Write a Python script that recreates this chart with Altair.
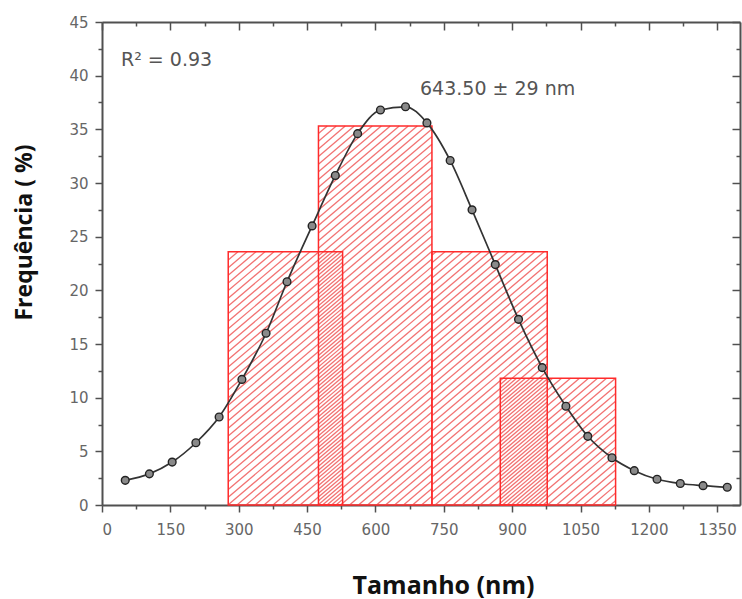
import math
import altair as alt
import pandas as pd

# ---------------- data ----------------
# histogram bars (Tamanho, nm) and their heights (Frequência, %)
bar_left = [277, 475, 724, 874]
bar_right = [528, 724, 977, 1127]
bar_freq = [23.6, 35.3, 23.6, 11.8]

# fitted distribution curve (points)
fit_size = [51, 104, 154, 206, 257, 307, 360, 406, 461, 512, 561, 611, 666, 713,
            764, 812, 863, 914, 966, 1018, 1066, 1119, 1168, 1218, 1269, 1319, 1372]
fit_freq = [2.3, 2.9, 4.0, 5.8, 8.2, 11.7, 16.0, 20.8, 26.0, 30.7, 34.6, 36.8, 37.1, 35.6,
            32.1, 27.5, 22.4, 17.3, 12.8, 9.2, 6.4, 4.4, 3.2, 2.4, 2.0, 1.8, 1.65]

# axes
x_domain = [0, 1400]
y_domain = [0, 45]
x_major = [0, 150, 300, 450, 600, 750, 900, 1050, 1200, 1350]
x_minor = [75, 225, 375, 525, 675, 825, 975, 1125, 1275]
y_major = [0, 5, 10, 15, 20, 25, 30, 35, 40, 45]
y_minor = [2.5, 7.5, 12.5, 17.5, 22.5, 27.5, 32.5, 37.5, 42.5]

r2_label = "R² = 0.93"
size_label = "643.50 ± 29 nm"
x_title = "Tamanho (nm)"
y_title = "Frequência ( %)"

# ---------------- layout ----------------
W, H = 638, 483
kx = W / (x_domain[1] - x_domain[0])
ky = H / (y_domain[1] - y_domain[0])

bars = pd.DataFrame({"left": bar_left, "right": bar_right, "freq": bar_freq})
curve = pd.DataFrame({"size": fit_size, "freq": fit_freq})

# diagonal hatch segments derived from each bar (screen slope s)
spacing = 9.0
s = 0.85
rows = []
for i, (l, r, h) in enumerate(zip(bar_left, bar_right, bar_freq)):
    X0, X1, Hp = l * kx, r * kx, h * ky
    phase = 0.0 if i % 2 == 0 else spacing / 2
    c = math.floor((X0 - Hp / s - phase) / spacing) * spacing + phase
    while c < X1:
        ylo = max(0.0, s * (X0 - c))
        yhi = min(Hp, s * (X1 - c))
        if yhi > ylo:
            rows.append({"x": (c + ylo / s) / kx, "y": ylo / ky,
                         "x2": (c + yhi / s) / kx, "y2": yhi / ky})
        c += spacing
hatch = pd.DataFrame(rows)

xs = alt.Scale(domain=x_domain, nice=False, zero=False)
ys = alt.Scale(domain=y_domain, nice=False, zero=False)

common = dict(grid=False, domainColor="#505050", domainWidth=2, tickColor="#505050",
              tickWidth=1.5, labelColor="#666666", labelFont="DejaVu Sans", labelFontSize=15,
              titleFont="Open Sans", titleFontWeight="bold", titleColor="#111111")

ax_bottom = alt.Axis(orient="bottom", values=x_major, format="d", tickSize=7, labelPadding=10,
                     title=x_title, titleFontSize=25, titleX=341, titleY=88,
                     titleAlign="center", titleBaseline="alphabetic", **common)
ax_bottom_minor = alt.Axis(orient="bottom", values=x_minor, tickSize=4, labels=False,
                           domain=False, title=None, **common)
ax_top = alt.Axis(orient="bottom", offset=-H, values=x_major, tickSize=8, labels=False,
                  title=None, **common)
ax_top_minor = alt.Axis(orient="bottom", offset=-H, values=x_minor, tickSize=4, labels=False,
                        domain=False, title=None, **common)

ax_left = alt.Axis(orient="left", values=y_major, tickSize=7, labelPadding=7,
                   title=y_title, titleFontSize=23, titleAngle=270, titleX=-78, titleY=210,
                   titleAlign="center", titleBaseline="middle", **common)
ax_left_minor = alt.Axis(orient="left", values=y_minor, tickSize=4, labels=False,
                         domain=False, title=None, **common)
ax_right = alt.Axis(orient="left", offset=-W, values=y_major, tickSize=8, labels=False,
                    title=None, **common)
ax_right_minor = alt.Axis(orient="left", offset=-W, values=y_minor, tickSize=4, labels=False,
                          domain=False, title=None, **common)

hatch_layer = alt.Chart(hatch).mark_rule(color="#f27272", strokeWidth=1.3).encode(
    x=alt.X("x:Q", scale=xs, axis=ax_bottom),
    x2="x2:Q",
    y=alt.Y("y:Q", scale=ys, axis=ax_left),
    y2="y2:Q",
)

bar_layer = alt.Chart(bars).mark_rect(fill="white", fillOpacity=0, stroke="#ff2b2b",
                                      strokeWidth=1.5).encode(
    x=alt.X("left:Q", scale=xs, axis=ax_bottom_minor),
    x2="right:Q",
    y=alt.Y("freq:Q", scale=ys, axis=ax_left_minor),
    y2=alt.datum(0),
)

line_layer = alt.Chart(curve).mark_line(color="#333333", strokeWidth=1.7,
                                        interpolate="monotone").encode(
    x=alt.X("size:Q", scale=xs, axis=ax_top),
    y=alt.Y("freq:Q", scale=ys, axis=ax_right),
)

point_layer = alt.Chart(curve).mark_circle(size=60, fill="#8a8a8a", stroke="#222222",
                                           strokeWidth=1.4, opacity=1).encode(
    x=alt.X("size:Q", scale=xs, axis=ax_top_minor),
    y=alt.Y("freq:Q", scale=ys, axis=ax_right_minor),
)

r2_text = alt.Chart(pd.DataFrame({"t": [r2_label]})).mark_text(
    align="left", baseline="alphabetic", font="DejaVu Sans", fontSize=19, color="#555555"
).encode(text="t:N", x=alt.value(19), y=alt.value(44))

size_text = alt.Chart(pd.DataFrame({"t": [size_label]})).mark_text(
    align="left", baseline="alphabetic", font="DejaVu Sans", fontSize=19, color="#555555"
).encode(text="t:N", x=alt.value(318), y=alt.value(73))

chart = alt.layer(
    hatch_layer, bar_layer, line_layer, point_layer, r2_text, size_text
).resolve_axis(
    x="independent", y="independent"
).properties(
    width=W, height=H,
    autosize=alt.AutoSizeParams(type="none"),
    padding={"left": 102, "top": 22, "right": 2, "bottom": 94},
    background="white",
).configure_view(stroke=None)

chart.save("out.html", embed_options={"renderer": "svg", "actions": False})
